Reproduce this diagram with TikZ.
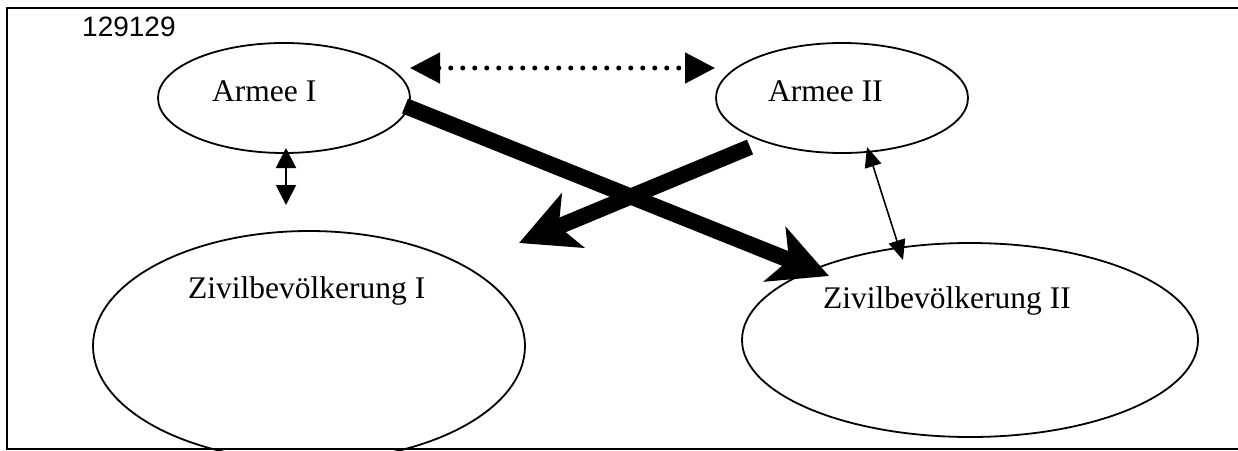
\documentclass[tikz,border=0pt]{standalone}
\usepackage{fontspec}
\setmainfont{Liberation Serif}
\newfontfamily\numfont{Liberation Sans}
\usetikzlibrary{shapes.geometric,arrows.meta}

\begin{document}
\begin{tikzpicture}[x=1pt,y=-1pt,
  zone/.style={draw,ellipse,line width=1.8pt,inner sep=0pt},
  zonetext/.style={anchor=base west,inner sep=0pt,font=\fontsize{31.5}{36}\selectfont},
  attack/.style={line width=16pt,-{Stealth[length=58pt,width=58pt,inset=15pt]}},
  contact/.style={line width=1.6pt,{Triangle[length=20pt,width=17pt]}-{Triangle[length=20pt,width=17pt]}},
  supply/.style={line width=2pt,{Triangle[length=20pt,width=20pt]}-{Triangle[length=20pt,width=20pt]}},
  front/.style={line width=5pt,line cap=round,dash pattern=on 0pt off 12pt,
    {Triangle[length=30pt,width=30pt]}-{Triangle[length=30pt,width=30pt]}}]
  \useasboundingbox (0,0) rectangle (1238,450);
  \clip (0,0) rectangle (1238,450);

  % frame, open on the right
  \draw[line width=2pt] (1238,7.5) -| (7,449) -- (1238,449);
  \node[anchor=base west,inner sep=0pt,font=\numfont\fontsize{28}{32}\selectfont] (sheetno) at (82,36) {129129};

  % the four groups
  \node[zone,minimum width=252pt,minimum height=110pt] (armee1) at (284,98) {};
  \node[zone,minimum width=252pt,minimum height=110pt] (armee2) at (842,98) {};
  \node[zone,minimum width=432pt,minimum height=230pt] (zivil1) at (309,346) {};
  \node[zone,minimum width=456pt,minimum height=194pt] (zivil2) at (970,340) {};

  \node[zonetext] (armee1txt) at (212,101) {Armee I};
  \node[zonetext] (armee2txt) at (768,101) {Armee II};
  \node[zonetext] (zivil1txt) at (188,298) {Zivilbevölkerung I};
  \node[zonetext] (zivil2txt) at (823,308) {Zivilbevölkerung II};

  % arrow ends
  \coordinate (warL) at (410,68);
  \coordinate (warR) at (715,68);
  \coordinate (a1up) at (286,148);
  \coordinate (a1down) at (286,205);
  \coordinate (a2up) at (867,147);
  \coordinate (z2up) at (903,260);
  \coordinate (a1out) at (405,106);
  \coordinate (z2in) at (829,276);
  \coordinate (a2out) at (750,147);
  \coordinate (z1in) at (519,243);

  \draw[front] (warL) -- (warR);
  \draw[supply] (a1up) -- (a1down);
  \draw[contact] (a2up) -- (z2up);
  \draw[attack] (a1out) -- (z2in);
  \draw[attack] (a2out) -- (z1in);
\end{tikzpicture}
\end{document}
